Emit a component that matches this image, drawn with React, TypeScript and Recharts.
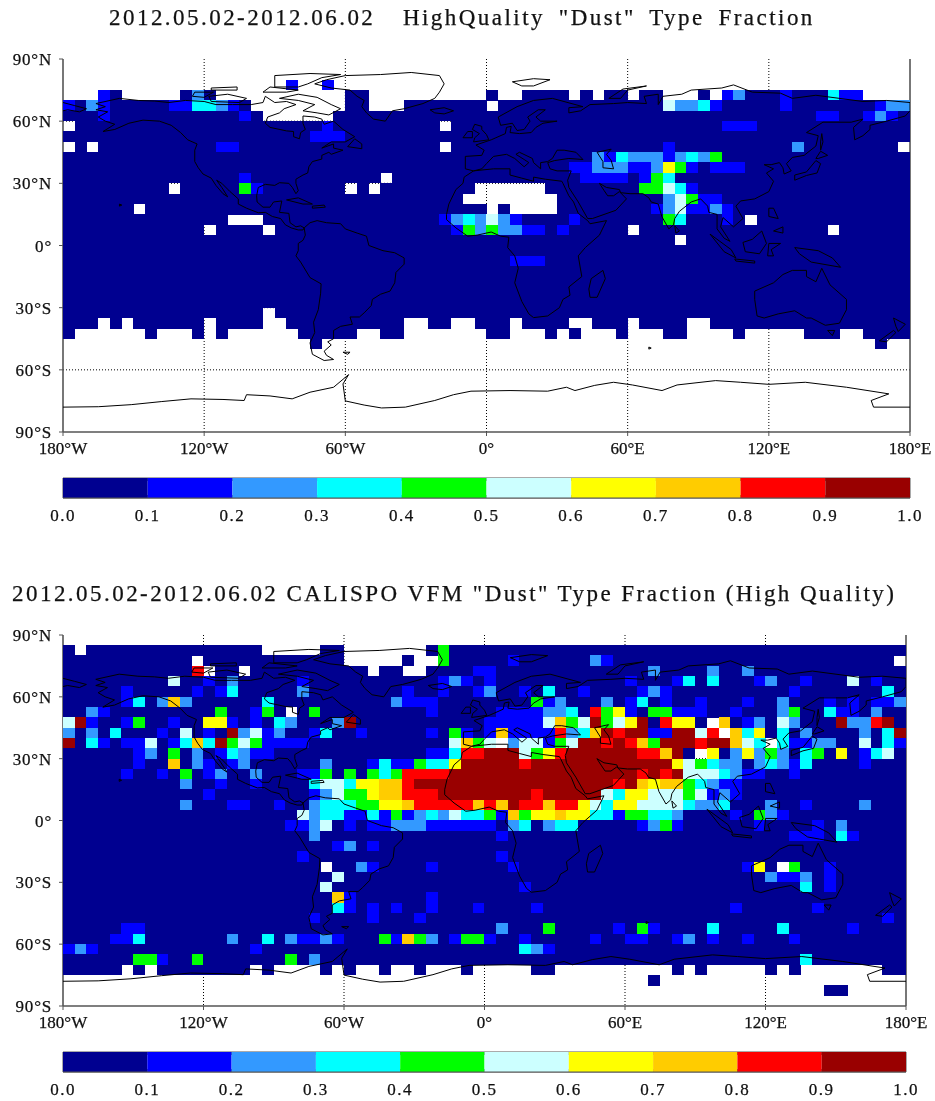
import { BarChart, Bar, ScatterChart, Scatter, XAxis, YAxis, CartesianGrid } from "recharts";

// 5 degree grid: 36 latitude bands (row 0 = 90N-85N), 72 longitude columns (col 0 = 180W-175W)
// digit = colour class of the fraction, "." = no data (white)
type Patch = [number, number, string];

const CLASS_LABELS = ["0.0", "0.1", "0.2", "0.3", "0.4", "0.5", "0.6", "0.7", "0.8", "0.9", "1.0"];
const CLASS_COLORS = ["#000090", "#0000ff", "#3399ff", "#00ffff", "#00ff00", "#ccffff", "#ffff00", "#ffcc00", "#ff0000", "#990000"];
const LON_TICKS = [-180, -120, -60, 0, 60, 120, 180];
const LAT_TICKS = [-90, -60, -30, 0, 30, 60, 90];
const LON_GRID = [-120, -60, 0, 60, 120];
const LAT_GRID = [-60, -30, 0, 30, 60];
const MINOR_TICKS = [0.05, 0.1, 0.15, 0.2, 0.25, 0.3, 0.35, 0.4, 0.45, 0.5, 0.55, 0.6, 0.65, 0.7, 0.75, 0.8, 0.85, 0.9, 0.95];

const TOP_TITLE = '2012.05.02-2012.06.02  HighQuality "Dust" Type Fraction';
const BOTTOM_TITLE = '2012.05.02-2012.06.02 CALISPO VFM "Dust" Type Fraction (High Quality)';

const TOP_FILLED_ROWS = [4, 26];
const TOP_PATCHES: Patch[] = [
  [2, 19, "1"], [2, 22, "1"],
  [3, 3, "10"], [3, 10, "020"], [3, 24, "00"], [3, 36, "0"], [3, 39, "0000"], [3, 44, "0"], [3, 46, "00"], [3, 49, "00"], [3, 54, "0"], [3, 56, "120001000311"],
  [4, 0, "1021"], [4, 9, "1133210"], [4, 16, "........"], [4, 26, "..."], [4, 36, "."], [4, 51, "52231"], [4, 61, "1"], [4, 69, "122"],
  [5, 3, "1"], [5, 15, "1"], [5, 17, "......"], [5, 64, "11"], [5, 68, "121"],
  [6, 0, "."], [6, 22, "1"], [6, 32, "."], [6, 56, "111"],
  [7, 21, "111"],
  [8, 0, "."], [8, 2, "."], [8, 13, "11"], [8, 32, "."], [8, 51, "1"], [8, 62, "2"], [8, 71, "."],
  [9, 45, "213"], [9, 48, "22212324"],
  [10, 43, "11"], [10, 45, "222"], [10, 48, "1126410111"],
  [11, 15, "1"], [11, 27, "."], [11, 44, "1111"], [11, 49, "143"],
  [12, 9, "."], [12, 15, "41"], [12, 24, "."], [12, 26, "."], [12, 35, "......"], [12, 49, "44531"],
  [13, 34, "........"], [13, 51, "25411"],
  [14, 6, "."], [14, 36, "."], [14, 38, "...."], [14, 50, "1251121"],
  [15, 14, "..."], [15, 32, "1232521"], [15, 43, "1"], [15, 51, "43"], [15, 56, "1"], [15, 58, "."],
  [16, 12, "."], [16, 17, "."], [16, 33, "14242211"], [16, 42, "1"], [16, 48, "."], [16, 65, "."],
  [17, 52, "."],
  [19, 38, "111"],
  [24, 17, "."],
  [25, 3, "."], [25, 5, "."], [25, 12, "."], [25, 17, ".."], [25, 29, ".."], [25, 33, ".."], [25, 38, "."], [25, 43, ".."], [25, 48, "."], [25, 53, ".."],
  [26, 1, "......"], [26, 8, "..."], [26, 12, "."], [26, 14, "......"], [26, 25, ".."], [26, 29, "......."], [26, 38, "..."], [26, 42, "."], [26, 44, "..."], [26, 48, "..."], [26, 53, "...."], [26, 58, "....."], [26, 66, ".."],
  [27, 21, "0"], [27, 69, "0"],
];

const BOTTOM_FILLED_ROWS = [1, 32];
const BOTTOM_PATCHES: Patch[] = [
  [1, 1, "."], [1, 17, "....."], [1, 24, "......."], [1, 32, "4"],
  [2, 11, "."], [2, 24, "....."], [2, 30, ".."], [2, 32, "4"], [2, 38, "1"], [2, 45, "21"], [2, 71, "."],
  [3, 11, "8."], [3, 15, "."], [3, 26, "."], [3, 29, ".."], [3, 35, "11"], [3, 50, "2"], [3, 55, "2"], [3, 58, "2"],
  [4, 9, "5"], [4, 12, "1"], [4, 14, "2"], [4, 20, "1"], [4, 32, "121"], [4, 36, "1"], [4, 48, "1"], [4, 52, "13"], [4, 55, "3"], [4, 59, "12"], [4, 63, "1"], [4, 67, "5"], [4, 69, "1"],
  [5, 5, "1"], [5, 11, "1"], [5, 13, "13"], [5, 20, "2"], [5, 29, "1"], [5, 32, "1"], [5, 35, "12"], [5, 39, "1"], [5, 41, "3"], [5, 44, "1"], [5, 49, "121"], [5, 62, "1"], [5, 70, "3"],
  [6, 5, "13"], [6, 8, "272"], [6, 17, "3"], [6, 28, "2111"], [6, 40, "412"], [6, 46, "2"], [6, 48, "13"], [6, 51, "1"], [6, 54, "1"], [6, 58, "1"], [6, 61, "2"], [6, 65, "1"], [6, 67, "1"], [6, 69, "112"],
  [7, 2, "21"], [7, 13, "4"], [7, 16, "14"], [7, 19, "."], [7, 21, "4"], [7, 31, "1"], [7, 37, "1111"], [7, 41, "223"], [7, 45, "846"], [7, 48, "1"], [7, 50, "44111"], [7, 57, "1"], [7, 61, "24"], [7, 65, "311"], [7, 69, "2"],
  [8, 0, "591"], [8, 5, "14"], [8, 9, "1"], [8, 12, "661"], [8, 16, "1"], [8, 18, "32"], [8, 23, "29"], [8, 36, "11111"], [8, 41, "57459456908660.7"], [8, 58, "12"], [8, 61, "52"], [8, 66, "92289"],
  [9, 0, "2"], [9, 2, "2"], [9, 4, "3"], [9, 8, "1"], [9, 10, "5"], [9, 12, "1"], [9, 14, "9251"], [9, 18, "2"], [9, 21, "13"], [9, 25, "1"], [9, 31, "1"], [9, 33, "41"], [9, 36, "17"], [9, 38, "1111"], [9, 42, "82379899119958.736"], [9, 61, "3"], [9, 63, "2"], [9, 68, "2"], [9, 70, "39"],
  [10, 0, "9"], [10, 2, "31"], [10, 5, "115"], [10, 9, "137394541111"], [10, 33, "5745.2551459989874999899753.31122"], [10, 68, "5"], [10, 70, "31"],
  [11, 6, "12"], [11, 9, "4"], [11, 11, "2"], [11, 13, "132"], [11, 16, "11"], [11, 31, "11388999546899999988790.6026242"], [11, 63, "34"], [11, 66, "6"], [11, 68, "135"],
  [12, 6, "1"], [12, 9, "7"], [12, 11, "21"], [12, 14, "12"], [12, 22, "2"], [12, 26, "13114336"], [12, 34, "99999"], [12, 39, "8"], [12, 40, "999999999999"], [12, 52, "654322"], [12, 59, "232"], [12, 62, "13"], [12, 68, "1"],
  [13, 5, "1"], [13, 8, "1"], [13, 10, "4"], [13, 12, "12"], [13, 16, "2"], [13, 20, "114"], [13, 24, "4"], [13, 26, "434"], [13, 29, "8888"], [13, 33, "999999999999999"], [13, 48, "98989"], [13, 53, "5553211"], [13, 62, "1"],
  [14, 10, "2"], [14, 13, "1"], [14, 16, "1"], [14, 21, "355366778"], [14, 30, "99999999999999999"], [14, 47, "89767743211"],
  [15, 12, "1"], [15, 21, "125"], [15, 24, "44677888"], [15, 32, "99999999"], [15, 40, "8"], [15, 41, "99999"], [15, 46, "53"], [15, 48, "66555"], [15, 53, "45121"],
  [16, 10, "2"], [16, 14, "11"], [16, 18, "1"], [16, 21, "2333"], [16, 25, "44667"], [16, 30, "88888"], [16, 35, "7879887886"], [16, 45, "53"], [16, 47, "66"], [16, 49, "5555322"], [16, 56, "3"], [16, 60, "2"], [16, 63, "1"], [16, 68, "2"],
  [17, 20, "523311314123253341746676633144332"], [17, 57, "1"], [17, 59, "421"],
  [18, 19, "1125"], [18, 24, "1"], [18, 26, "11222111111"], [18, 38, "230233"], [18, 49, "1241"], [18, 59, "1"], [18, 64, "1"], [18, 66, "2"],
  [19, 21, "2"], [19, 37, "1"], [19, 62, "111"], [19, 66, "31"],
  [20, 23, "12"], [20, 26, "1"],
  [21, 20, "1"], [21, 37, "1"],
  [22, 22, "."], [22, 25, "21"], [22, 31, "1"], [22, 38, "1"], [22, 58, "16"], [22, 61, ".4"], [22, 65, "1"],
  [23, 23, "5"], [23, 60, "2112"], [23, 65, "1"],
  [24, 22, "5"], [24, 39, "1"], [24, 63, "3"], [24, 65, "1"],
  [25, 23, "71"], [25, 31, "1"],
  [26, 23, "31"], [26, 26, "1"], [26, 28, "1"], [26, 31, "1"], [26, 35, "1"], [26, 40, "1"], [26, 57, "1"], [26, 64, "1"],
  [27, 21, "1"], [27, 26, "1"], [27, 30, "1"], [27, 70, "1"],
  [28, 5, "11"], [28, 37, "2"], [28, 41, "4"], [28, 47, "1"], [28, 49, "41"], [28, 55, "3"], [28, 61, "3"], [28, 67, "1"],
  [29, 4, "113"], [29, 14, "2"], [29, 17, "3"], [29, 19, "21121"], [29, 27, "41742"], [29, 33, "1441"], [29, 39, "1"], [29, 45, "1"], [29, 48, "11"], [29, 52, "12"], [29, 55, "1"], [29, 58, "1"], [29, 62, "1"],
  [30, 0, "121"], [30, 16, "1"], [30, 39, "321"],
  [31, 6, "441"], [31, 11, "4"], [31, 19, "4"], [31, 21, "2"], [31, 63, "3"],
  [32, 5, "."], [32, 7, "."], [32, 16, "."], [32, 18, "...."], [32, 23, "."], [32, 25, ".."], [32, 28, ".."], [32, 31, "..."], [32, 35, "....."], [32, 42, ".........."], [32, 53, "."], [32, 55, "....."], [32, 61, "."], [32, 63, "......."],
  [33, 50, "0"],
  [34, 65, "00"],
];

// coastlines, [lon, lat]
const NORTH_AMERICA = [[-166,68.5],[-156,71],[-148,70],[-141,69.7],[-135,69],[-128,70],[-120,69.5],[-115,68],[-108,68],[-100,68],[-95,69],[-94,72],[-90,69],[-85,69.5],[-81,68],[-86,66],[-88,64],[-93,62],[-94,59],[-92,57],[-85,55.3],[-82,55],[-82,52.5],[-79.5,51.5],[-79,54.5],[-77,56],[-78,59],[-78,62.5],[-73,62],[-70,61],[-69,58.5],[-65,60],[-61,56],[-56,52.5],[-60,50],[-66,50],[-70,47],[-65,49],[-65,47],[-61,46],[-66,44],[-67,45],[-70,43.5],[-70,41.7],[-74,40.5],[-75.5,38],[-76,35],[-78,34],[-81,32],[-81,30],[-80,26.5],[-81,25],[-82.5,28],[-84,30],[-88,30.3],[-90,29],[-94,29.5],[-97,28],[-97.7,24],[-97.5,21],[-95,18.5],[-92,18.5],[-90.5,21],[-87,21.5],[-88,16],[-84,15.5],[-83.5,11],[-81,9],[-79,9.5],[-77.5,8.5],[-78,7.5],[-80,7.5],[-83,8.5],[-85.5,10],[-87.5,13],[-91,14],[-94,16],[-97,15.8],[-102,18],[-105.5,20],[-105.5,22.5],[-109,26],[-112.5,30],[-114.7,31.5],[-112.5,28],[-110,23.5],[-112,25],[-115,29],[-117,32.5],[-120.5,34.5],[-122.5,37.5],[-124,40.5],[-124,46],[-123,49],[-127,51],[-130,54.5],[-134,58],[-139,60],[-146,60.5],[-152,59],[-158,56],[-163,55],[-158,58.5],[-162,60],[-165,62],[-161,64.5],[-166,65.5],[-162,67],[-166,68.5]];
const SOUTH_AMERICA = [[-77.5,8.5],[-75,11],[-72,12],[-68,11],[-62,10.5],[-60,8],[-55,6],[-51,4.5],[-50,0],[-44,-2.5],[-39,-3.5],[-35,-6],[-35,-9],[-38.5,-13],[-39,-18],[-41,-22],[-45,-23.5],[-48.5,-26],[-49,-29],[-52,-32.5],[-54,-34.5],[-58,-34.5],[-57,-38],[-62,-39],[-65,-41],[-65,-45],[-67.5,-46.5],[-66,-48],[-69,-51],[-68,-53],[-65,-55],[-69,-55.5],[-74,-52.5],[-75,-47],[-73,-42],[-73.5,-37],[-71.5,-31],[-70.5,-23],[-70.3,-18.5],[-75,-15.5],[-79,-8],[-81,-5],[-80,-2.5],[-80,1],[-78,2.5],[-77,5],[-77.5,8.5]];
const GREENLAND = [[-73,78],[-68,80],[-60,82],[-45,82.5],[-32,83.5],[-20,82],[-18,78],[-20,74],[-22,71],[-27,68.5],[-35,66],[-40,65],[-43,60],[-48,61],[-51,64],[-53,67],[-52,70],[-55,72],[-58,75],[-66,76],[-73,78]];
const ARCTIC_ISLANDS = [
  [[-62,66],[-67,63],[-72,64],[-78,65],[-73,68],[-80,70],[-88,71],[-80,73],[-72,71.5],[-66,68],[-62,66]],
  [[-90,76.5],[-80,76.5],[-76,78],[-70,81],[-62,82.5],[-75,83],[-90,82],[-90,76.5]],
  [[-117,69.5],[-105,69],[-102,71],[-110,73],[-118,72],[-117,69.5]],
  [[-125,72],[-120,71.5],[-116,74],[-124,74],[-125,72]],
  [[-95,74],[-85,74],[-80,75],[-92,76.5],[-95,74]],
  [[-117,75],[-106,75],[-106,76.5],[-117,76],[-117,75]],
  [[11,79],[20,80.5],[27,80],[20,77],[15,77],[11,79]],
  [[52,71],[57,71],[60,75],[68,77],[58,75.5],[52,71]],
];
const EURASIA = [[-9,43],[-2,43.5],[-1,46],[-4.5,48.5],[2,51],[4,52],[8,54],[8.5,57],[10.5,57.5],[10,54.5],[14,54],[19,54.5],[21,57],[24,59],[30,60],[23,60],[21,62],[25,65.5],[22,65.5],[17.5,62],[18.5,60],[16,56],[13,55.5],[11,59],[6,58],[5,62],[13,67],[20,70],[28,71],[41,67],[35,66.5],[35,64],[40,65],[44,68],[54,68.5],[60,69],[68,68.5],[67,72],[73,73],[73,68],[75,72],[83,73],[87,75],[100,76],[105,77.5],[113,74],[125,73.5],[130,71],[140,72.5],[160,69.5],[170,70],[180,69],[180,65],[178,62.5],[170,60],[163,58],[163,56],[160,53],[156.5,51],[156,57],[160,61],[155,59.5],[143,59.5],[136,54.5],[141,53],[140,48],[135,43.5],[130,42.5],[127.5,39.5],[129.5,36],[126.5,34.5],[126,37.5],[124.5,40],[121,39],[118,39],[122,37],[119,35],[122,31],[120,26],[114,22.5],[108,21.5],[106,19],[109,13],[105,9],[100.5,13.5],[99.5,9],[103.5,2],[101,3.5],[98,8],[98,15],[94.5,16],[94,19],[91,22.5],[87,21],[82,16.5],[80,13],[79.5,10],[77.5,8],[74.5,14],[73,20],[70,21],[69,23],[66.5,25],[61,25],[57,25.5],[56.5,27],[51,28],[48,30],[50,26.5],[51.5,24],[54,24],[56.5,26],[59.5,22.5],[55,17],[45,13],[43,13],[39,21],[35,28],[34.5,31.5],[36,36],[30,36],[27,37],[26,40],[29,41],[35,42],[41,41.5],[38,45],[33,46],[30,46],[28,42],[26,40.5],[23,40],[23,37],[20,40],[19.5,42],[14,45],[12.5,44],[16,41.5],[18,40],[16,38],[12,42],[8.5,44],[3,43],[0,39.5],[-2,37],[-5.5,36],[-9,37],[-9,43]];
const CHUKOTKA = [[-180,69],[-175,67.5],[-170,66],[-173,64.5],[-178,65.5],[-180,65]];
const AFRICA = [[-5.5,36],[3,37],[10,37],[10,34],[15,32.5],[20,31],[20,33],[25,32],[32,31],[32.5,30],[35,24],[37,21],[39,15.5],[43,12],[44,10.5],[51,12],[48,5],[42,-1],[39,-5],[40.5,-15],[35,-20],[35.5,-24],[32.5,-26],[31,-30],[26,-34],[20,-34.8],[18,-33],[15,-27],[12,-18],[13.5,-11],[12,-5],[9,-1],[9.5,4],[6,4.5],[2,6.5],[-4,5],[-8,4.5],[-13,8.5],[-17,12.5],[-17,15],[-16,20],[-13,27],[-10,30],[-9.5,33],[-5.5,36]];
const AUSTRALIA = [[114,-22],[122,-18],[126,-14],[130,-12],[136,-12],[136,-15],[140,-17.5],[142.5,-11],[146,-19],[153,-26],[153,-31],[150,-37.5],[144,-38.5],[138,-35],[136,-35],[131,-31.5],[124,-33],[118,-35],[115,-34],[114,-26],[114,-22]];
const ANTARCTICA = [[-180,-78],[-165,-77.8],[-151,-76.8],[-138,-75.3],[-125.6,-74],[-112,-74.3],[-103,-74.8],[-102,-72],[-92,-72.6],[-82.6,-74],[-75,-70.8],[-65,-68.4],[-58.6,-62.3],[-61,-66.8],[-60,-75],[-52,-77],[-44.6,-78.4],[-34.5,-78],[-22,-74.8],[-14,-72],[-6.6,-70.3],[10,-70],[26,-70.3],[34,-68.4],[37.6,-70],[46,-67.5],[54,-66],[62,-67.3],[74.6,-70],[81,-67.3],[97.4,-65.2],[108,-66],[120,-67],[135.5,-66],[153,-68.4],[171,-71.6],[163.5,-74.8],[164.5,-78],[180,-78]];
const SMALL_ISLANDS = [
  [[-59,47.7],[-53,46.7],[-53,49],[-56,51.5],[-59,47.7]],
  [[-24,65.5],[-18,66.5],[-14,65],[-18,63.5],[-22,64],[-24,65.5]],
  [[-5.5,50],[1,51],[0,53.5],[-2,56],[-2,57.5],[-5,58.5],[-6,56],[-3,54],[-5,52],[-5.5,50]],
  [[-10,52],[-6,52],[-6,55],[-8,55],[-10,52]],
  [[47,45],[53,46.5],[51,44],[53,41],[54,37],[49.5,37.5],[49.5,40.5],[47,45]],
  [[49.5,-12],[50.5,-16],[47,-25],[44,-25],[43.5,-21],[44.5,-16],[49.5,-12]],
  [[145,-41],[148,-41],[147,-43.5],[145,-41]],
  [[173,-35],[178,-38],[175,-41.5],[174,-39],[173,-35]],
  [[173,-41],[174,-42],[170,-46.5],[167,-46],[173,-41]],
  [[131,-1],[141,-2.5],[147,-6],[150.5,-10.5],[143,-9],[138,-8],[133,-4],[131,-1]],
  [[109,1.5],[113,3],[117,7],[119,1],[116,-4],[110,-3],[109,1.5]],
  [[95,5.5],[104,-2],[106,-6],[101,-3],[95,5.5]],
  [[105.5,-6.5],[114,-7.5],[114,-8.5],[106,-7.5],[105.5,-6.5]],
  [[120,1],[125,1],[121,-2],[122,-5],[119.5,-5],[120,1]],
  [[120,18],[122,18],[124,13],[120,14],[120,18]],
  [[122,7],[126,9],[126,6],[122,7]],
  [[131,34],[136,35.5],[140,41],[142,39.5],[140.5,35],[136,33.8],[131,31.5],[131,34]],
  [[140,42],[142,45.5],[145,43.5],[141,42],[140,42]],
  [[142,46],[143,50],[142.5,54],[142,50],[142,46]],
  [[80,9.5],[82,7],[80.5,6],[80,9.5]],
  [[-85,22],[-80,23],[-74,20],[-78,20],[-85,22]],
  [[-74,19],[-69,19.5],[-68.5,18.5],[-74,18],[-74,19]],
  [[-156,20],[-155,19.5],[-156,19],[-156,20]],
  [[-61,-51.5],[-58,-51.5],[-59,-52.5],[-61,-51.5]],
  [[69,-49],[70,-49.5],[69,-50],[69,-49]],
];

const COASTS = [NORTH_AMERICA, SOUTH_AMERICA, GREENLAND, EURASIA, CHUKOTKA, AFRICA, AUSTRALIA, ANTARCTICA, ...ARCTIC_ISLANDS, ...SMALL_ISLANDS]
  .map((line) => line.map(([lon, lat]) => ({ lon, lat })));

const FONT = "'Liberation Serif', serif";
const AXIS_COLOR = "#555";
const axisLine = { stroke: AXIS_COLOR, strokeWidth: 1.6 };

function buildCells(filled: number[], patches: Patch[]) {
  const grid: string[][] = [];
  for (let r = 0; r < 36; r++) {
    grid.push(new Array(72).fill(r >= filled[0] && r <= filled[1] ? "0" : "."));
  }
  patches.forEach(([r, c, text]) => {
    text.split("").forEach((ch, i) => {
      grid[r][c + i] = ch;
    });
  });
  const cells: { lon: number; lat: number; bin: number }[] = [];
  grid.forEach((row, r) => {
    row.forEach((ch, c) => {
      if (ch !== ".") cells.push({ lon: -180 + 5 * c + 2.5, lat: 90 - 5 * r - 2.5, bin: Number(ch) });
    });
  });
  return cells;
}

const fmtLon = (v: number) => (v === 0 ? "0°" : `${Math.abs(v)}°${v < 0 ? "W" : "E"}`);
const fmtLat = (v: number) => (v === 0 ? "0°" : `${Math.abs(v)}°${v < 0 ? "S" : "N"}`);

type MapProps = { top: number; plotRight: number; plotTop: number; plotBottom: number; filled: number[]; patches: Patch[] };

function MapPanel({ top, plotRight, plotTop, plotBottom, filled, patches }: MapProps) {
  const cells = buildCells(filled, patches);
  const cellW = ((plotRight - 63) * 5) / 360 + 0.3;
  const cellH = ((plotBottom - plotTop) * 5) / 180 + 0.3;
  const tickBase = { fontFamily: FONT, fontSize: 17, fill: "#111", stroke: "#111", strokeWidth: 0.25 };
  return (
    <div style={{ position: "absolute", left: 0, top }}>
      <ScatterChart
        width={935}
        height={plotBottom - plotTop + 60}
        margin={{ top: 10, right: 935 - plotRight - 10, bottom: 10, left: 13 }}
      >
        <XAxis dataKey="lon" type="number" domain={[-180, 180]} ticks={LON_TICKS} tickFormatter={fmtLon} height={40} tick={tickBase} tickSize={4} tickMargin={6} stroke={AXIS_COLOR} axisLine={axisLine} allowDataOverflow interval={0} />
        <XAxis xAxisId="top" orientation="top" type="number" domain={[-180, 180]} ticks={LON_TICKS} tick={false} height={0} tickSize={3} stroke={AXIS_COLOR} axisLine={axisLine} />
        <YAxis dataKey="lat" type="number" domain={[-90, 90]} ticks={LAT_TICKS} tickFormatter={fmtLat} width={50} tick={{ ...tickBase, letterSpacing: 0.8 }} tickSize={4} tickMargin={7} stroke={AXIS_COLOR} axisLine={axisLine} allowDataOverflow interval={0} />
        <YAxis yAxisId="right" orientation="right" type="number" domain={[-90, 90]} ticks={LAT_TICKS} tick={false} width={10} tickSize={8} stroke={AXIS_COLOR} axisLine={axisLine} />
        <Scatter
          data={cells}
          isAnimationActive={false}
          shape={(p: any) => (
            <rect
              x={p.cx - cellW / 2}
              y={p.cy - cellH / 2}
              width={cellW}
              height={cellH}
              fill={CLASS_COLORS[p.payload.bin]}
              shapeRendering="crispEdges"
            />
          )}
        />
        {COASTS.map((coast, i) => (
          <Scatter
            key={i}
            data={coast}
            isAnimationActive={false}
            line={{ stroke: "#000", strokeWidth: 1 }}
            shape={() => null}
          />
        ))}
        <CartesianGrid stroke="#000" strokeDasharray="1 2" horizontalValues={LAT_GRID} verticalValues={LON_GRID} />
      </ScatterChart>
    </div>
  );
}

function ColorBar({ top, plotRight }: { top: number; plotRight: number }) {
  const row: Record<string, number | string> = { name: "fraction" };
  CLASS_COLORS.forEach((_, i) => {
    row[`c${i}`] = 0.1;
  });
  return (
    <div style={{ position: "absolute", left: 0, top }}>
      <BarChart
        layout="vertical"
        width={935}
        height={60}
        data={[row]}
        barCategoryGap={0}
        margin={{ top: 8, right: 935 - plotRight, bottom: 4, left: 63 }}
      >
        <XAxis type="number" domain={[0, 1]} ticks={CLASS_LABELS.map(Number)} tickFormatter={(v: number) => v.toFixed(1)} height={28} tickLine={false} tickMargin={5} stroke={AXIS_COLOR} interval={0} tick={{ fontFamily: FONT, fontSize: 17, fill: "#111", stroke: "#111", strokeWidth: 0.25, letterSpacing: 1.5 }} />
        <YAxis type="category" dataKey="name" hide />
        {CLASS_COLORS.map((color, i) => (
          <Bar key={color} dataKey={`c${i}`} stackId="scale" fill={color} isAnimationActive={false} />
        ))}
        <CartesianGrid stroke="#444" strokeDasharray="3 14 3" horizontal={false} verticalValues={MINOR_TICKS} />
        <CartesianGrid stroke={AXIS_COLOR} horizontalPoints={[8, 28]} verticalValues={[0, 1]} />
      </BarChart>
    </div>
  );
}

const titleStyle = { position: "absolute", fontFamily: FONT, fontSize: 23, letterSpacing: 2.46, whiteSpace: "pre", color: "#111", WebkitTextStroke: "0.25px #111" } as const;

export default function App() {
  return (
    <div style={{ position: "absolute", left: 0, top: 0, width: 935, height: 1101, background: "#fff", filter: "blur(0.4px)" }}>
      <div style={{ ...titleStyle, left: 109, top: 5, wordSpacing: 5.6 }}>{TOP_TITLE}</div>
      <MapPanel top={49} plotRight={910} plotTop={59} plotBottom={432} filled={TOP_FILLED_ROWS} patches={TOP_PATCHES} />
      <ColorBar top={470} plotRight={910} />
      <div style={{ ...titleStyle, left: 12, top: 581 }}>{BOTTOM_TITLE}</div>
      <MapPanel top={625} plotRight={906} plotTop={635} plotBottom={1006} filled={BOTTOM_FILLED_ROWS} patches={BOTTOM_PATCHES} />
      <ColorBar top={1044} plotRight={906} />
    </div>
  );
}
